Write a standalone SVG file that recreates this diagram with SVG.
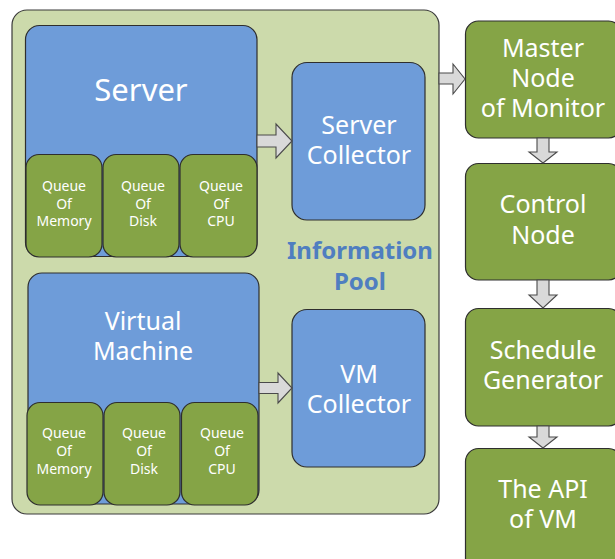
<svg xmlns="http://www.w3.org/2000/svg" width="615" height="559" viewBox="0 0 615 559">
  <style>
    .pool { fill: #ccdaab; stroke: #3a3a3a; stroke-width: 1.2; }
    .blue { fill: #6e9cd9; stroke: #2e2e2e; stroke-width: 1.2; }
    .green { fill: #85a446; stroke: #2e2e2e; stroke-width: 1.2; }
    .arrow { fill: #d9d9d9; stroke: #4a4a4a; stroke-width: 1.1; stroke-linejoin: miter; }
    text { font-family: "Noto Sans", "Open Sans", "DejaVu Sans", sans-serif; fill: #ffffff; text-anchor: middle; }
    .big { font-size: 31px; }
    .mid { font-size: 25px; }
    .small { font-size: 14px; }
    .pooltitle { font-size: 24px; font-weight: bold; fill: #4f7ec0; }
  </style>

  <!-- Information pool container -->
  <g id="information-pool">
    <rect class="pool" x="12" y="10" width="427" height="504" rx="15"/>
    <text class="pooltitle" x="360" y="259">Information</text>
    <text class="pooltitle" x="360" y="290">Pool</text>
  </g>

  <!-- Server with its queues -->
  <g id="server">
    <rect class="blue" x="25.5" y="25.5" width="231.5" height="231" rx="14"/>
    <text class="big" x="141" y="101">Server</text>
  </g>
  <g id="server-queue-memory">
    <rect class="green" x="26" y="154.5" width="76" height="102.5" rx="13"/>
    <text class="small" x="64" y="191">Queue</text>
    <text class="small" x="64" y="208.5">Of</text>
    <text class="small" x="64" y="226">Memory</text>
  </g>
  <g id="server-queue-disk">
    <rect class="green" x="103" y="154.5" width="76" height="102.5" rx="13"/>
    <text class="small" x="143" y="191">Queue</text>
    <text class="small" x="143" y="208.5">Of</text>
    <text class="small" x="143" y="226">Disk</text>
  </g>
  <g id="server-queue-cpu">
    <rect class="green" x="180" y="154.5" width="77" height="102.5" rx="13"/>
    <text class="small" x="221" y="191">Queue</text>
    <text class="small" x="221" y="208.5">Of</text>
    <text class="small" x="221" y="226">CPU</text>
  </g>

  <!-- Virtual machine with its queues -->
  <g id="virtual-machine">
    <rect class="blue" x="28" y="273" width="231" height="231" rx="14"/>
    <text class="mid" x="143" y="330">Virtual</text>
    <text class="mid" x="143" y="360">Machine</text>
  </g>
  <g id="vm-queue-memory">
    <rect class="green" x="27" y="402.5" width="76" height="102.5" rx="13"/>
    <text class="small" x="64" y="438">Queue</text>
    <text class="small" x="64" y="456">Of</text>
    <text class="small" x="64" y="474">Memory</text>
  </g>
  <g id="vm-queue-disk">
    <rect class="green" x="104" y="402.5" width="76" height="102.5" rx="13"/>
    <text class="small" x="144" y="438">Queue</text>
    <text class="small" x="144" y="456">Of</text>
    <text class="small" x="144" y="474">Disk</text>
  </g>
  <g id="vm-queue-cpu">
    <rect class="green" x="181.5" y="402.5" width="76.5" height="102.5" rx="13"/>
    <text class="small" x="222" y="438">Queue</text>
    <text class="small" x="222" y="456">Of</text>
    <text class="small" x="222" y="474">CPU</text>
  </g>

  <!-- Collectors -->
  <g id="server-collector">
    <rect class="blue" x="292" y="62.5" width="133" height="157.5" rx="15"/>
    <text class="mid" x="359" y="134">Server</text>
    <text class="mid" x="359" y="164">Collector</text>
  </g>
  <g id="vm-collector">
    <rect class="blue" x="292" y="309.5" width="133" height="157.5" rx="15"/>
    <text class="mid" x="359" y="383">VM</text>
    <text class="mid" x="359" y="413">Collector</text>
  </g>

  <!-- Control chain -->
  <g id="master-node">
    <rect class="green" x="465.5" y="21" width="156" height="117" rx="13"/>
    <text class="mid" x="543" y="57">Master</text>
    <text class="mid" x="543" y="87">Node</text>
    <text class="mid" x="543" y="117">of Monitor</text>
  </g>
  <g id="control-node">
    <rect class="green" x="465.5" y="163.5" width="156" height="116.5" rx="13"/>
    <text class="mid" x="543" y="213">Control</text>
    <text class="mid" x="543" y="244">Node</text>
  </g>
  <g id="schedule-generator">
    <rect class="green" x="465.5" y="308.5" width="156" height="117.5" rx="13"/>
    <text class="mid" x="543" y="359">Schedule</text>
    <text class="mid" x="543" y="389">Generator</text>
  </g>
  <g id="vm-api">
    <rect class="green" x="465.5" y="448.5" width="156" height="125" rx="13"/>
    <text class="mid" x="543" y="498">The API</text>
    <text class="mid" x="543" y="528">of VM</text>
  </g>

  <!-- Block arrows -->
  <g id="connectors">
    <polygon class="arrow" points="257,135 276,135 276,124 292,141 276,158 276,147 257,147"/>
    <polygon class="arrow" points="259,382.5 278,382.5 278,373 292,388 278,403 278,393.5 259,393.5"/>
    <polygon class="arrow" points="439,73 453,73 453,64 465,79 453,94 453,84 439,84"/>
    <polygon class="arrow" points="537,138 549,138 549,152 557,152 543,163 529,152 537,152"/>
    <polygon class="arrow" points="537,280 549,280 549,295 557,295 543,308 529,295 537,295"/>
    <polygon class="arrow" points="537,426 549,426 549,437 557,437 543,448 529,437 537,437"/>
  </g>
</svg>
